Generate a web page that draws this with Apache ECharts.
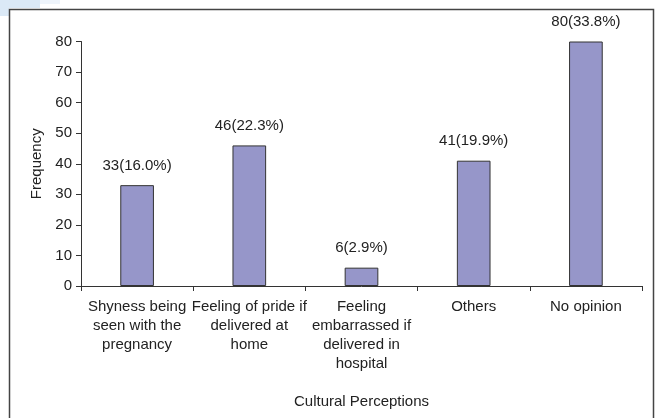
<!DOCTYPE html>
<html>
<head>
<meta charset="utf-8">
<script src="https://cdn.jsdelivr.net/npm/echarts@6/dist/echarts.min.js"></script>
<style>
  html, body { margin: 0; padding: 0; background: #fff; }
  #main { width: 655px; height: 418px; }
</style>
</head>
<body>
<div id="main"></div>
<script>
"use strict";

var categories = [
  "Shyness being\nseen with the\npregnancy",
  "Feeling of pride if\ndelivered at\nhome",
  "Feeling\nembarrassed if\ndelivered in\nhospital",
  "Others",
  "No opinion"
];
var frequency = [33, 46, 6, 41, 80];
var percents = ["16.0", "22.3", "2.9", "19.9", "33.8"];
var yTicks = [0, 10, 20, 30, 40, 50, 60, 70, 80];

var chartDom = document.getElementById("main");
var myChart = echarts.init(chartDom, null, { renderer: "canvas" });
var font = "Liberation Sans, Arial, sans-serif";

var option = {
  animation: false,
  backgroundColor: "#fff",
  graphic: [
    // faint blue corner from the scanned page
    { type: "rect", shape: { x: 0, y: 0, width: 40, height: 8 }, style: { fill: "#dbe9f6" }, z: -1 },
    { type: "rect", shape: { x: 0, y: 0, width: 9, height: 16 }, style: { fill: "#dbe9f6" }, z: -1 },
    { type: "rect", shape: { x: 40, y: 0, width: 20, height: 4 }, style: { fill: "#eef4fb" }, z: -1 },
    // outer frame
    {
      type: "rect",
      shape: { x: 9.5, y: 9.5, width: 644, height: 420 },
      style: { fill: "none", stroke: "#444", lineWidth: 1.5 }
    }
  ],
  grid: { left: 81, right: 13, top: 41.5, bottom: 132 },
  xAxis: {
    type: "category",
    data: categories,
    name: "Cultural Perceptions",
    nameLocation: "middle",
    nameGap: 108,
    nameTextStyle: { fontFamily: font, fontSize: 15, color: "#222" },
    axisLine: { lineStyle: { color: "#333", width: 1 } },
    axisTick: { show: true, length: 5, lineStyle: { color: "#333" } },
    axisLabel: {
      interval: 0,
      margin: 12,
      fontFamily: font,
      fontSize: 15,
      lineHeight: 18.7,
      color: "#222"
    }
  },
  yAxis: {
    type: "value",
    min: 0,
    max: 80,
    interval: 10,
    name: "Frequency",
    nameLocation: "middle",
    nameGap: 37,
    nameTextStyle: { fontFamily: font, fontSize: 15, color: "#222" },
    axisLine: { show: true, lineStyle: { color: "#333", width: 1 } },
    axisTick: { show: true, length: 5, lineStyle: { color: "#333" } },
    splitLine: { show: false },
    axisLabel: {
      margin: 9,
      fontFamily: font,
      fontSize: 15,
      color: "#222",
      formatter: function (v) { return yTicks.indexOf(v) >= 0 ? String(v) : ""; }
    }
  },
  series: [
    {
      type: "bar",
      data: frequency,
      barWidth: "30%",
      itemStyle: { color: "#9696c9", borderColor: "#333", borderWidth: 1 },
      label: {
        show: true,
        position: "top",
        distance: 12,
        fontFamily: font,
        fontSize: 15,
        color: "#222",
        formatter: function (p) { return p.value + "(" + percents[p.dataIndex] + "%)"; }
      }
    }
  ]
};

option && myChart.setOption(option);
</script>
</body>
</html>
